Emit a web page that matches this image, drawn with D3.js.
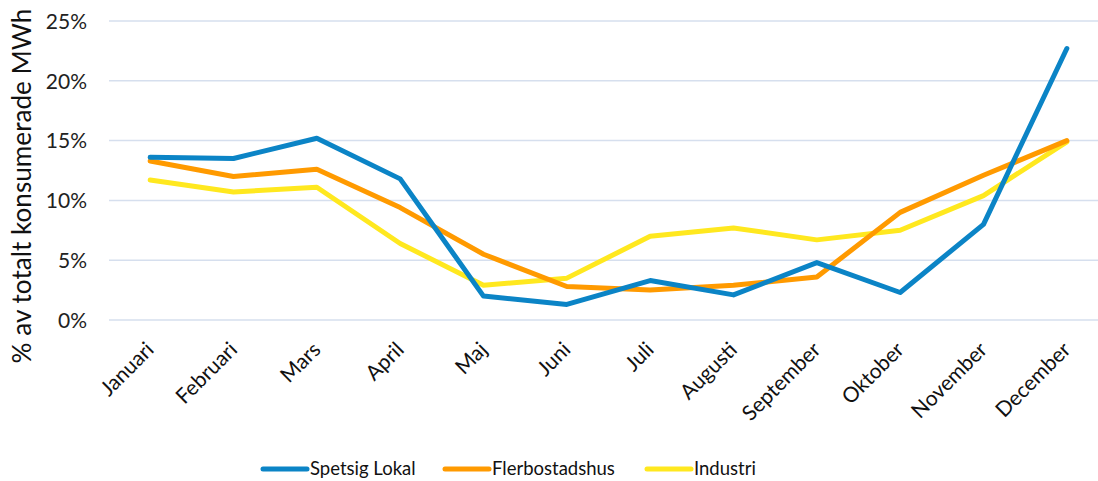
<!DOCTYPE html>
<html><head><meta charset="utf-8">
<script src="https://cdn.jsdelivr.net/npm/d3@7"></script>
<style>html,body{margin:0;padding:0;background:#fff;}svg{display:block;}svg text{font-family:Lato,"Open Sans",sans-serif;}</style>
</head><body><svg id="c" width="1098" height="481"></svg>
<script>
const months = ["Januari","Februari","Mars","April","Maj","Juni","Juli","Augusti","September","Oktober","November","December"];
const seriesNames = ["Spetsig Lokal","Flerbostadshus","Industri"];
const spetsigLokal = [13.6,13.5,15.2,11.8,2.0,1.3,3.3,2.1,4.8,2.3,8.0,22.7];
const flerbostadshus = [13.3,12.0,12.6,9.4,5.5,2.8,2.5,2.9,3.6,9.0,12.1,15.0];
const industri = [11.7,10.7,11.1,6.4,2.9,3.5,7.0,7.7,6.7,7.5,10.4,14.9];
const yTicks = [0,5,10,15,20,25];
const colors = ["#0b84c6","#ff9a00","#ffe81f"];

const svg = d3.select("#c");
const x = d3.scaleBand().domain(months).range([108.5,1108.5]);
const y = d3.scaleLinear().domain([0,25]).range([320,21]);
const cx = m => x(m) + x.bandwidth()/2;

// gridlines
svg.append("g").selectAll("line").data(yTicks).join("line")
  .attr("x1",109).attr("x2",1098)
  .attr("y1",d=>y(d)).attr("y2",d=>y(d))
  .attr("stroke","#d6dfee").attr("stroke-width",1.5);

// y axis labels
const yAxis = d3.axisLeft(y).tickValues(yTicks).tickFormat(d=>d+"%").tickSize(0).tickPadding(0);
const ya = svg.append("g").attr("transform","translate(87,0)").call(yAxis);
ya.attr("font-family",null);
ya.select(".domain").remove();
ya.selectAll("text").attr("font-size",21).attr("fill","#222").attr("dy","0.35em");

// y title
const yt = svg.append("text").attr("transform","translate(31,186) rotate(-90)")
  .attr("text-anchor","middle").attr("font-size",22).attr("fill","#111")
  .text("% av totalt konsumerade MWh");
const tl = yt.node().getComputedTextLength();
yt.attr("font-size", 22*355/tl);

// x axis labels
const xAxis = d3.axisBottom(x).tickSize(0).tickPadding(0);
const xa = svg.append("g").attr("transform","translate(0,320)").call(xAxis);
xa.attr("font-family",null);
xa.select(".domain").remove();
xa.selectAll("text").attr("font-size",21).attr("fill","#111")
  .attr("text-anchor","end").attr("dy",null).attr("y",0)
  .attr("transform","translate(5,31) rotate(-45)");

// lines
const data = [spetsigLokal, flerbostadshus, industri];
const line = d3.line().x((d,i)=>cx(months[i])).y(d=>y(d));
svg.append("g").selectAll("path").data([2,1,0].map(i=>({v:data[i],c:colors[i]}))).join("path")
  .attr("d",d=>line(d.v)).attr("fill","none").attr("stroke",d=>d.c)
  .attr("stroke-width",5).attr("stroke-linejoin","round").attr("stroke-linecap","round");

// legend
const legX = [263,445,647];
const lg = svg.append("g").selectAll("g").data(seriesNames).join("g")
  .attr("transform",(d,i)=>`translate(${legX[i]},469)`);
lg.append("line").attr("x1",0).attr("x2",44).attr("y1",0).attr("y2",0)
  .attr("stroke",(d,i)=>colors[i]).attr("stroke-width",5).attr("stroke-linecap","round");
lg.append("text").attr("x",47).attr("y",0).attr("dy","0.35em").attr("font-size",18.5).attr("fill","#111").text(d=>d);
</script></body></html>
